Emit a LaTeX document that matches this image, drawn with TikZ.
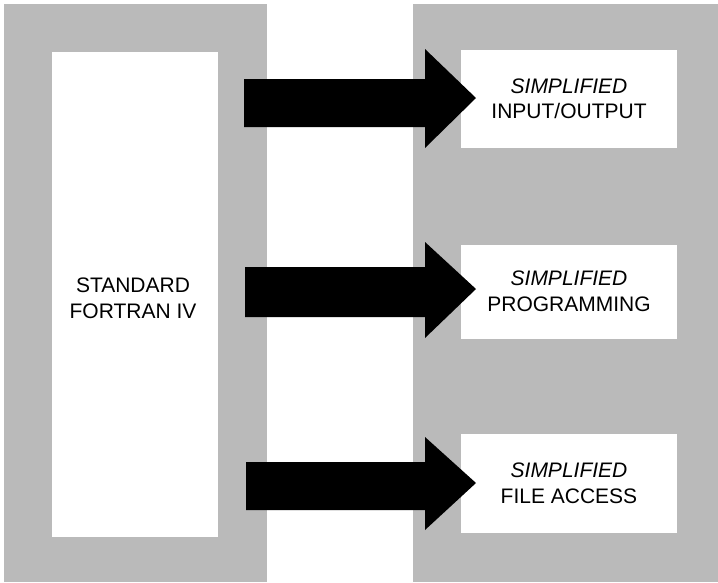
\documentclass[tikz,border=0pt]{standalone}
\usepackage{fontspec}
\setmainfont{Liberation Sans}
\definecolor{panelgray}{gray}{0.73}
\begin{document}
\begin{tikzpicture}[x=1pt,y=-1pt,
  panel/.style={fill=panelgray,draw=none},
  whitebox/.style={fill=white,draw=none,inner sep=0pt,align=center,
    font=\fontsize{21}{25.5}\selectfont},
  label text/.style={inner sep=0pt,align=center,
    font=\fontsize{21}{26.5}\selectfont},
  bigarrow/.style={fill=black,draw=none}]
\useasboundingbox (0,0) rectangle (718,582);
\fill[white] (0,0) rectangle (718,582);
% gray panels
\path[panel] (4,4) rectangle (267,582);
\path[panel] (413,4) rectangle (718,582);
% left box
\node[whitebox,minimum width=166pt,minimum height=485pt] (src) at (135,294.5) {};
\node[label text] (srctext) at (133,298.5) {STANDARD\\FORTRAN IV};
% right boxes
\node[whitebox,minimum width=216pt,minimum height=98pt] (b1) at (569,99)
  {\textit{SIMPLIFIED}\\INPUT/OUTPUT};
\node[whitebox,minimum width=216pt,minimum height=94pt] (b2) at (569,291.5)
  {\textit{SIMPLIFIED}\\PROGRAMMING};
\node[whitebox,minimum width=216pt,minimum height=99pt] (b3) at (569,483.5)
  {\textit{SIMPLIFIED}\\FILE ACCESS};
% arrows (connectors from src to each box)
\coordinate (t1) at (476,98);
\coordinate (t2) at (476,289);
\coordinate (t3) at (476,483);
\path[bigarrow] (244,79) -- (425,79) -- (425,49) -- (t1) -- (425,148) -- (425,127) -- (244,127) -- cycle;
\path[bigarrow] (245,267) -- (425,267) -- (425,242) -- (t2) -- (425,338) -- (425,317) -- (245,317) -- cycle;
\path[bigarrow] (246,462) -- (425,462) -- (425,437) -- (t3) -- (425,530) -- (425,510) -- (246,510) -- cycle;
\end{tikzpicture}
\end{document}
